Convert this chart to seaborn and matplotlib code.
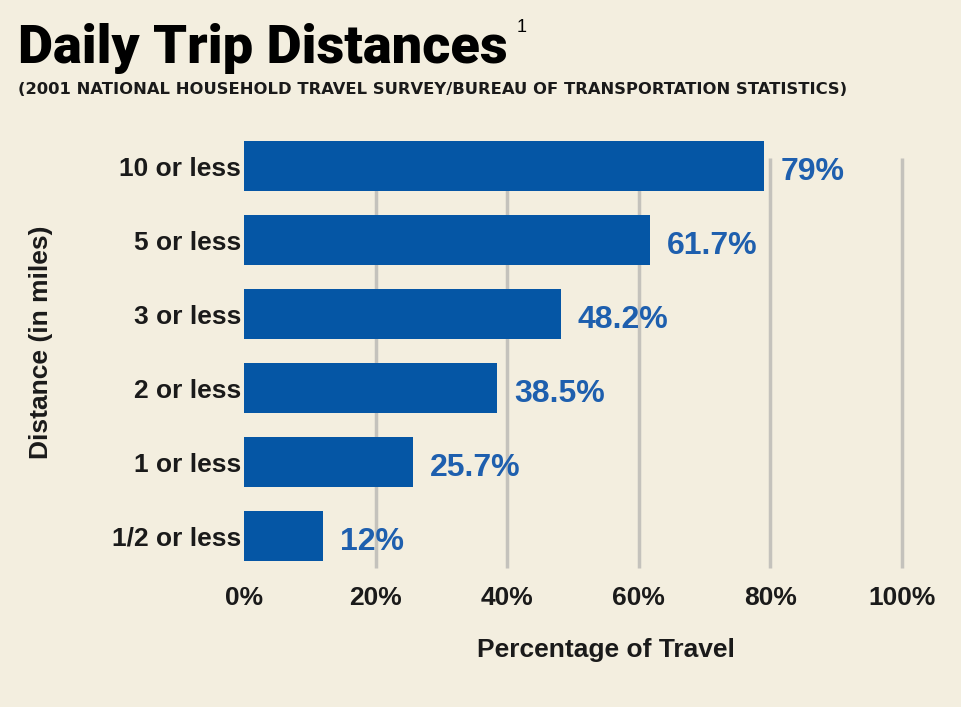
import matplotlib
matplotlib.use("Agg")
import matplotlib.pyplot as plt
import seaborn as sns
import pandas as pd

categories = ["10 or less", "5 or less", "3 or less", "2 or less", "1 or less", "1/2 or less"]
values = [79, 61.7, 48.2, 38.5, 25.7, 12]
value_labels = ["79%", "61.7%", "48.2%", "38.5%", "25.7%", "12%"]
x_ticks = [0, 20, 40, 60, 80, 100]
x_tick_labels = ["0%", "20%", "40%", "60%", "80%", "100%"]

BG = "#F3EEDF"
BAR = "#0556A5"
LABEL_BLUE = "#1E5FAE"
GRID = "#C4C2BC"

sns.set_theme(style="white")
plt.rcParams["font.family"] = ["Liberation Sans", "DejaVu Sans"]

df = pd.DataFrame({"Distance": categories, "Percent": values})

fig = plt.figure(figsize=(9.61, 7.07), dpi=100, facecolor=BG)
ax = fig.add_axes([0.2539, 0.179, 0.6847, 0.649])
ax.set_facecolor(BG)

# gridlines
ax.vlines(x_ticks[1:], ymin=5.43, ymax=-0.11, colors=GRID, linewidth=2.5,
          zorder=0, clip_on=False)

sns.barplot(data=df, y="Distance", x="Percent", orient="h", color=BAR,
            width=0.68, saturation=1, linewidth=0, ax=ax, zorder=2)

ax.set_xlim(0, 100)
ax.set_ylim(5.6, -0.6)
for s in ax.spines.values():
    s.set_visible(False)

ax.set_xticks(x_ticks)
ax.set_xticklabels(x_tick_labels)
ax.tick_params(axis="x", length=0, pad=4, labelsize=19, labelcolor="#1a1a1a")
ax.tick_params(axis="y", length=0, pad=2, labelsize=19, labelcolor="#1a1a1a")
for t in ax.get_xticklabels() + ax.get_yticklabels():
    t.set_fontweight("bold")

ax.set_xlabel("Percentage of Travel", fontsize=19, color="#1a1a1a", fontweight="bold")
ax.xaxis.set_label_coords(0.55, -0.125)
ax.set_ylabel("Distance (in miles)", fontsize=19, color="#1a1a1a", fontweight="bold")
ax.yaxis.set_label_coords(-0.29, 0.52)

for c in ax.containers:
    texts = ax.bar_label(c, labels=value_labels, padding=12, fontsize=23,
                         fontweight="bold", color=LABEL_BLUE)
    for t in texts:
        t.xyann = (12, -4)

fig.text(0.019, 1 - 63 / 707, "Daily Trip Distances", fontsize=39, fontweight="black",
         color="black", va="baseline", family=["Roboto", "Liberation Sans", "DejaVu Sans"])
fig.text(0.538, 1 - 19 / 707, "1", fontsize=13, fontweight="normal", color="black",
         va="top")
fig.text(0.019, 1 - 94 / 707,
         "(2001 NATIONAL HOUSEHOLD TRAVEL SURVEY/BUREAU OF TRANSPORTATION STATISTICS)",
         fontsize=11.8, fontweight="bold", color="#1a1a1a", va="baseline",
         family=["DejaVu Sans"])

fig.savefig("out.png", dpi=100, facecolor=BG)
